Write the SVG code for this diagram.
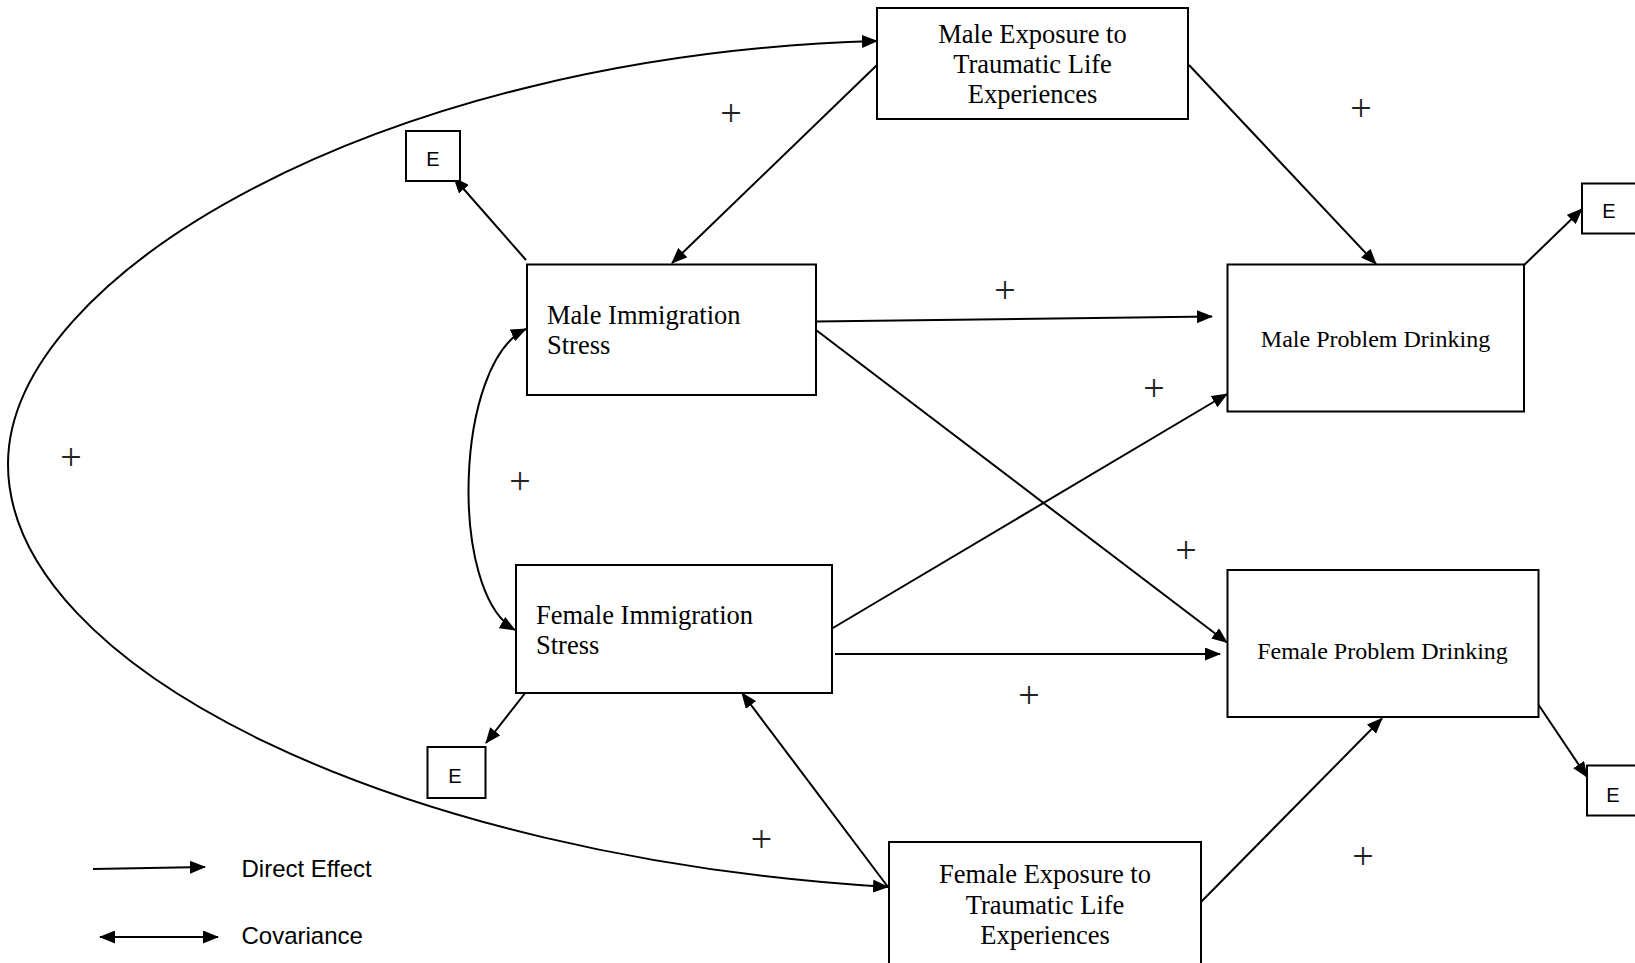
<svg xmlns="http://www.w3.org/2000/svg" width="1635" height="963" viewBox="0 0 1635 963">
<style>
.box{fill:#fff;stroke:#000;stroke-width:2}
.lbl{font-family:"Liberation Serif","Times New Roman",serif;font-size:26.5px;fill:#000}
.pd{font-family:"Liberation Serif","Times New Roman",serif;font-size:24px;fill:#000}
.e{font-family:"Liberation Sans",Arial,sans-serif;font-size:20px;fill:#000;text-anchor:middle}
.leg{font-family:"Liberation Sans",Arial,sans-serif;font-size:24px;fill:#000}
.plus{font-family:"Liberation Serif","Times New Roman",serif;font-size:38px;fill:#222;text-anchor:middle}
.ln{fill:none;stroke:#000;stroke-width:2}
</style>
<defs>
<marker id="ah" markerUnits="userSpaceOnUse" markerWidth="16" markerHeight="13" refX="15" refY="6.5" orient="auto-start-reverse" viewBox="0 0 16 13">
<path d="M0,0 L16,6.5 L0,13 z" fill="#000"/>
</marker>
</defs>
<rect width="1635" height="963" fill="#fff"/>
<g id="connectors">
<path class="ln" d="M877,41 C380,55 8,275 8,464 C8,670 400,858 888,887" marker-start="url(#ah)" marker-end="url(#ah)"/>
<path class="ln" d="M526,329 C455,362 448,592 515,630" marker-start="url(#ah)" marker-end="url(#ah)"/>
<line class="ln" x1="877" y1="65" x2="672" y2="263" marker-end="url(#ah)"/>
<line class="ln" x1="526" y1="260" x2="454" y2="178" marker-end="url(#ah)"/>
<line class="ln" x1="1189" y1="65" x2="1376" y2="264" marker-end="url(#ah)"/>
<line class="ln" x1="1520" y1="269" x2="1582" y2="209" marker-end="url(#ah)"/>
<line class="ln" x1="816" y1="321.5" x2="1212" y2="316.5" marker-end="url(#ah)"/>
<line class="ln" x1="816" y1="330" x2="1227" y2="642.5" marker-end="url(#ah)"/>
<line class="ln" x1="832" y1="628.5" x2="1227" y2="394" marker-end="url(#ah)"/>
<line class="ln" x1="835" y1="654" x2="1220" y2="654" marker-end="url(#ah)"/>
<line class="ln" x1="526" y1="692" x2="486" y2="743" marker-end="url(#ah)"/>
<line class="ln" x1="888" y1="887" x2="742" y2="693" marker-end="url(#ah)"/>
<line class="ln" x1="1201" y1="902" x2="1382" y2="718.5" marker-end="url(#ah)"/>
<line class="ln" x1="1538" y1="704" x2="1587" y2="777" marker-end="url(#ah)"/>
</g>
<g id="male-exposure">
<rect class="box" x="877" y="8" width="311" height="111"/>
<text class="lbl" text-anchor="middle"><tspan x="1032.5" y="43">Male Exposure to</tspan><tspan x="1032.5" y="73">Traumatic Life</tspan><tspan x="1032.5" y="103">Experiences</tspan></text>
</g>
<g id="male-immigration">
<rect class="box" x="527" y="264.5" width="289" height="130.5"/>
<text class="lbl"><tspan x="547" y="323.5">Male Immigration</tspan><tspan x="547" y="354">Stress</tspan></text>
</g>
<g id="female-immigration">
<rect class="box" x="516" y="565" width="316" height="128"/>
<text class="lbl"><tspan x="536" y="623.5">Female Immigration</tspan><tspan x="536" y="654">Stress</tspan></text>
</g>
<g id="male-drinking">
<rect class="box" x="1227.5" y="264.5" width="296.5" height="147"/>
<text class="pd" x="1375.5" y="347" text-anchor="middle">Male Problem Drinking</text>
</g>
<g id="female-drinking">
<rect class="box" x="1227.5" y="570" width="311" height="147"/>
<text class="pd" x="1382.5" y="658.5" text-anchor="middle">Female Problem Drinking</text>
</g>
<g id="female-exposure">
<rect class="box" x="889" y="842" width="312" height="130"/>
<text class="lbl" text-anchor="middle"><tspan x="1045" y="883">Female Exposure to</tspan><tspan x="1045" y="913.5">Traumatic Life</tspan><tspan x="1045" y="943.5">Experiences</tspan></text>
</g>
<g id="e-male-imm">
<rect class="box" x="406" y="131" width="54" height="50"/>
<text class="e" x="433" y="166">E</text>
</g>
<g id="e-male-pd">
<rect class="box" x="1582" y="183.5" width="60" height="50"/>
<text class="e" x="1609" y="218">E</text>
</g>
<g id="e-female-imm">
<rect class="box" x="427.5" y="747" width="58" height="51"/>
<text class="e" x="455" y="782.5">E</text>
</g>
<g id="e-female-pd">
<rect class="box" x="1587" y="765.5" width="60" height="50"/>
<text class="e" x="1613" y="801.5">E</text>
</g>
<g id="plus-labels">
<text class="plus" x="731" y="125.5">+</text>
<text class="plus" x="1361" y="120.5">+</text>
<text class="plus" x="1005" y="303">+</text>
<text class="plus" x="1154" y="401">+</text>
<text class="plus" x="71" y="469.5">+</text>
<text class="plus" x="520" y="494">+</text>
<text class="plus" x="1186" y="563">+</text>
<text class="plus" x="1029" y="708">+</text>
<text class="plus" x="761.5" y="852">+</text>
<text class="plus" x="1363" y="869">+</text>
</g>
<g id="legend">
<line class="ln" x1="93" y1="869" x2="205" y2="867" marker-end="url(#ah)"/>
<text class="leg" x="241.5" y="877">Direct Effect</text>
<line class="ln" x1="100" y1="937" x2="218" y2="937" marker-start="url(#ah)" marker-end="url(#ah)"/>
<text class="leg" x="241.5" y="943.5">Covariance</text>
</g>
</svg>
